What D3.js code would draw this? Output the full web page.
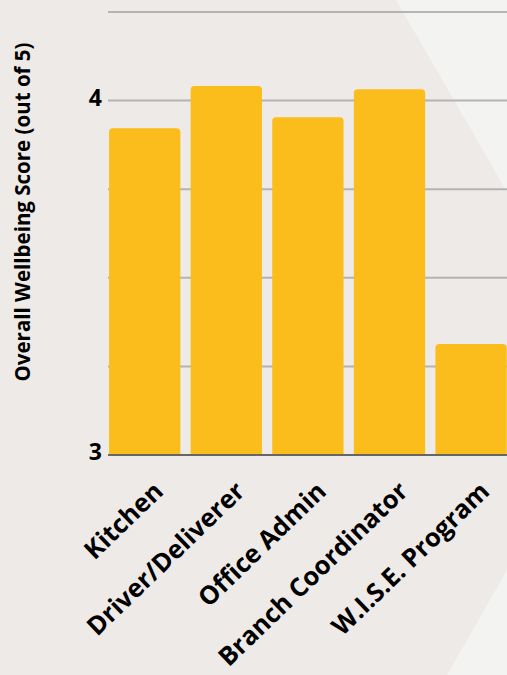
<!DOCTYPE html>
<html>
<head>
<meta charset="utf-8">
<script src="https://cdn.jsdelivr.net/npm/d3@7"></script>
<style>
  html, body { margin: 0; padding: 0; background: #EDEAE7; }
  svg { display: block; }
  text { font-family: "Open Sans", "Noto Sans", sans-serif; font-weight: 700; fill: #000; }
</style>
</head>
<body>
<svg id="chart" width="507" height="675"></svg>
<script>
// Wellbeing scores by role
const categories = ["Kitchen", "Driver/Deliverer", "Office Admin", "Branch Coordinator", "W.I.S.E. Program"];
const scores = [3.922, 4.041, 3.953, 4.032, 3.313];
const gridValues = [3.25, 3.5, 3.75, 4, 4.25];
const tickLabels = [3, 4];
const yTitle = "Overall Wellbeing Score (out of 5)";

const W = 507, H = 675;
const svg = d3.select("#chart");

// soft light panels in the background
svg.append("rect").attr("width", W).attr("height", H).attr("fill", "#EDEAE7");
svg.append("path").attr("d", "M396,0 L507,0 L507,192 Z").attr("fill", "#F3F3F2");
svg.append("path").attr("d", "M447,675 L507,570 L507,675 Z").attr("fill", "#F3F3F2");

const x = d3.scaleBand()
  .domain(categories)
  .range([103.9, 511.9])
  .paddingInner(0.126)
  .paddingOuter(0.063);

const y = d3.scaleLinear().domain([3, 4.25]).range([455, 12]);

const plotLeft = 108, plotRight = W;

// gridlines
svg.append("g").selectAll("line").data(gridValues).join("line")
  .attr("x1", plotLeft).attr("x2", plotRight)
  .attr("y1", d => y(d)).attr("y2", d => y(d))
  .attr("stroke", "#B4B4B4").attr("stroke-width", 2);

// bars with rounded top corners
function barPath(x0, w, top, bottom, r) {
  return `M${x0},${bottom} L${x0},${top + r} Q${x0},${top} ${x0 + r},${top} ` +
         `L${x0 + w - r},${top} Q${x0 + w},${top} ${x0 + w},${top + r} L${x0 + w},${bottom} Z`;
}
svg.append("g").selectAll("path").data(categories).join("path")
  .attr("d", (c, i) => barPath(x(c), x.bandwidth(), y(scores[i]), y(3), 4))
  .attr("fill", "#FBBD1B");

// baseline
svg.append("line")
  .attr("x1", plotLeft).attr("x2", plotRight)
  .attr("y1", y(3)).attr("y2", y(3))
  .attr("stroke", "#666666").attr("stroke-width", 2);

// y tick labels
svg.append("g").selectAll("text").data(tickLabels).join("text")
  .attr("x", 102)
  .attr("y", d => y(d) - 3)
  .attr("dy", "0.36em")
  .attr("text-anchor", "end")
  .attr("font-size", 23)
  .text(d => d);

// category labels, rotated
svg.append("g").selectAll("text").data(categories).join("text")
  .attr("text-anchor", "end")
  .attr("font-size", 25.5)
  .attr("transform", c => `translate(${x(c) + x.bandwidth() / 2 + 20},${y(3) + 38}) rotate(-44)`)
  .text(c => c);

// y axis title
svg.append("text")
  .attr("text-anchor", "middle")
  .attr("font-size", 20.5)
  .attr("transform", `translate(30,212) rotate(-90)`)
  .text(yTitle);
</script>
</body>
</html>
